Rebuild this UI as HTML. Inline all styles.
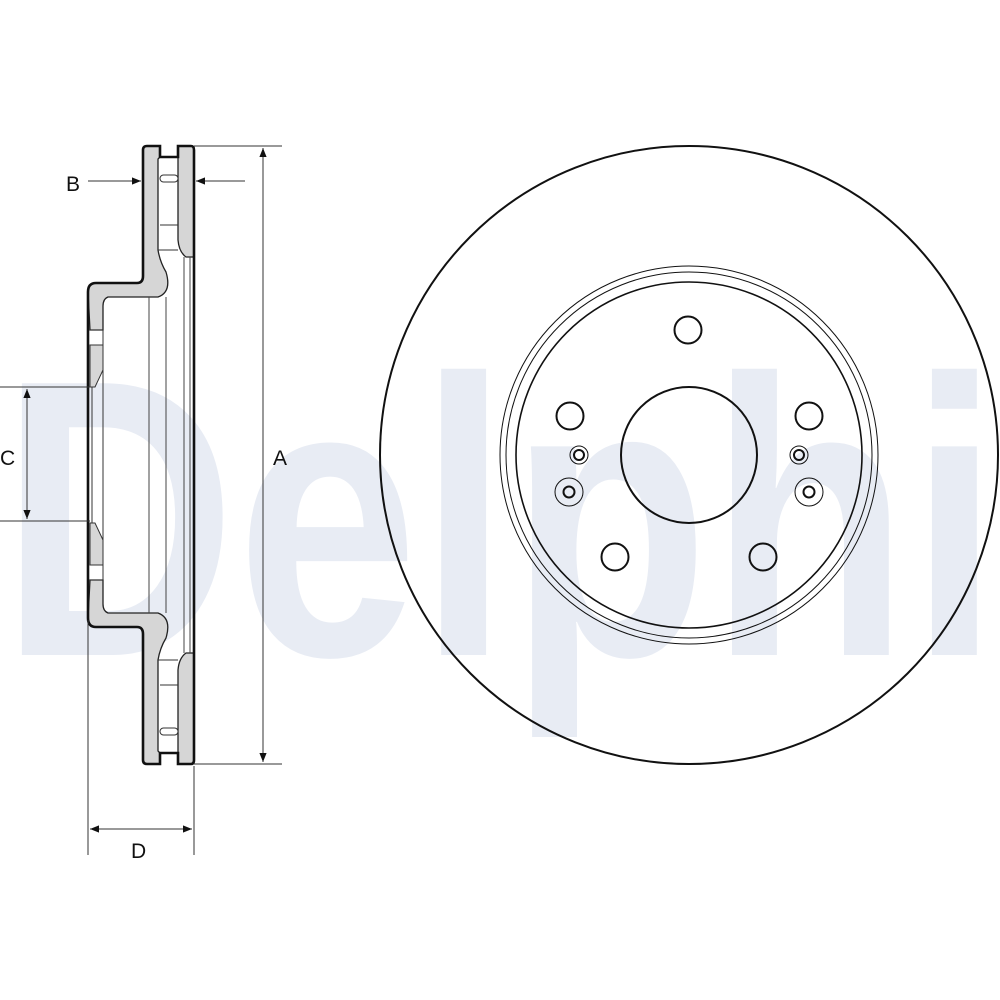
<!DOCTYPE html>
<html><head><style>
html,body{margin:0;padding:0;background:#fff;width:1000px;height:1000px;overflow:hidden}
svg{display:block}
text{font-family:"Liberation Sans",sans-serif}
</style></head><body>
<svg width="1000" height="1000" viewBox="0 0 1000 1000" xmlns="http://www.w3.org/2000/svg">
<defs>
<marker id="ar" viewBox="0 0 10 10" refX="10" refY="5" markerWidth="9" markerHeight="9" orient="auto-start-reverse"><path d="M0,1 L10,5 L0,9 Z" fill="#111"/></marker>
<g id="half">
  <!-- left plate + hat flange -->
  <path d="M143,150 Q143,146 147,146 L160,146 L160,157 L158,159 L158,250 Q160,262 166,272 Q172,292 158,297 L108,297 Q103,299 103,306 L103,330 L90,330 L88,292 Q88,283 96,283 L137,283 Q143,283 143,276 Z" fill="#d6d6d6" stroke="#222" stroke-width="1.3"/>
  <!-- right plate -->
  <path d="M178,146 L191,146 Q194,146 194,150 L194,257 L186,257 Q179,252 178,240 Z" fill="#d6d6d6" stroke="#222" stroke-width="1.3"/>
  <path d="M160,157 L178,157" stroke="#222" stroke-width="1.5"/>
  <rect x="160" y="175" width="18" height="7" rx="3.5" fill="#fff" stroke="#333" stroke-width="1"/>
  <path d="M160,225 L178,225" stroke="#333" stroke-width="1"/>
  <path d="M158,250 L178,250" stroke="#333" stroke-width="1"/>
  <!-- thick outer outlines -->
  <path d="M143,276 L143,150 Q143,146 147,146 L160,146 L160,157 L178,157 L178,146 L191,146 Q194,146 194,150 L194,455" fill="none" stroke="#111" stroke-width="2.6"/>
  <path d="M143,276 Q143,283 137,283 L96,283 Q88,283 88,292 L88,455" fill="none" stroke="#111" stroke-width="2.6"/>
  <!-- hat wall -->
  <path d="M103,330 L103,455" stroke="#333" stroke-width="1"/>
  <path d="M90,330 L103,330" stroke="#333" stroke-width="1"/>
  <path d="M90,345 L103,345 L103,370 L95,387 L90,387 Z" fill="#d6d6d6" stroke="#333" stroke-width="1"/>
  <path d="M92,387 L92,455" stroke="#333" stroke-width="1"/>
  <path d="M149,297 L149,455 M166,297 L166,455 M184,257 L184,455 M190,257 L190,455" stroke="#444" stroke-width="1"/>
</g>
</defs>

<!-- watermark -->
<text x="0" y="655" font-size="395" font-weight="bold" fill="#e8ecf4" textLength="1000" lengthAdjust="spacingAndGlyphs">Delphi</text>

<!-- side profile -->
<use href="#half"/>
<use href="#half" transform="translate(0,910) scale(1,-1)"/>

<!-- dimension lines -->
<g stroke="#333" stroke-width="1" fill="none">
  <line x1="194" y1="146" x2="282" y2="146"/>
  <line x1="194" y1="764" x2="282" y2="764"/>
  <line x1="263" y1="148" x2="263" y2="762" marker-start="url(#ar)" marker-end="url(#ar)"/>
  <line x1="88" y1="181" x2="141" y2="181" marker-end="url(#ar)"/>
  <line x1="245" y1="181" x2="196" y2="181" marker-end="url(#ar)"/>
  <line x1="0" y1="387" x2="90" y2="387"/>
  <line x1="0" y1="521" x2="90" y2="521"/>
  <line x1="27" y1="389" x2="27" y2="519" marker-start="url(#ar)" marker-end="url(#ar)"/>
  <line x1="88" y1="620" x2="88" y2="855"/>
  <line x1="194" y1="766" x2="194" y2="855"/>
  <line x1="90" y1="829" x2="192" y2="829" marker-start="url(#ar)" marker-end="url(#ar)"/>
</g>
<g font-size="21" fill="#111">
  <text x="66" y="191">B</text>
  <text x="0" y="465">C</text>
  <text x="273" y="465">A</text>
  <text x="131" y="858">D</text>
</g>

<!-- front view -->
<g fill="none" stroke="#111">
  <circle cx="689" cy="455" r="309" stroke-width="2"/>
  <circle cx="689" cy="455" r="189" stroke-width="1"/>
  <circle cx="689" cy="455" r="183" stroke-width="1"/>
  <circle cx="689" cy="455" r="173" stroke-width="1.6"/>
  <circle cx="689" cy="455" r="68" stroke-width="2"/>
  <circle cx="688" cy="330" r="13.5" stroke-width="2"/>
  <circle cx="570" cy="416" r="13.5" stroke-width="2"/>
  <circle cx="809" cy="416" r="13.5" stroke-width="2"/>
  <circle cx="615" cy="557" r="13.5" stroke-width="2"/>
  <circle cx="763" cy="557" r="13.5" stroke-width="2"/>
  <circle cx="579" cy="455" r="9" stroke-width="1"/>
  <circle cx="579" cy="455" r="5" stroke-width="2"/>
  <circle cx="799" cy="455" r="9" stroke-width="1"/>
  <circle cx="799" cy="455" r="5" stroke-width="2"/>
  <circle cx="569" cy="492" r="14" stroke-width="1"/>
  <circle cx="569" cy="492" r="5.5" stroke-width="2"/>
  <circle cx="809" cy="492" r="14" stroke-width="1"/>
  <circle cx="809" cy="492" r="5.5" stroke-width="2"/>
</g>
</svg>
</body></html>
